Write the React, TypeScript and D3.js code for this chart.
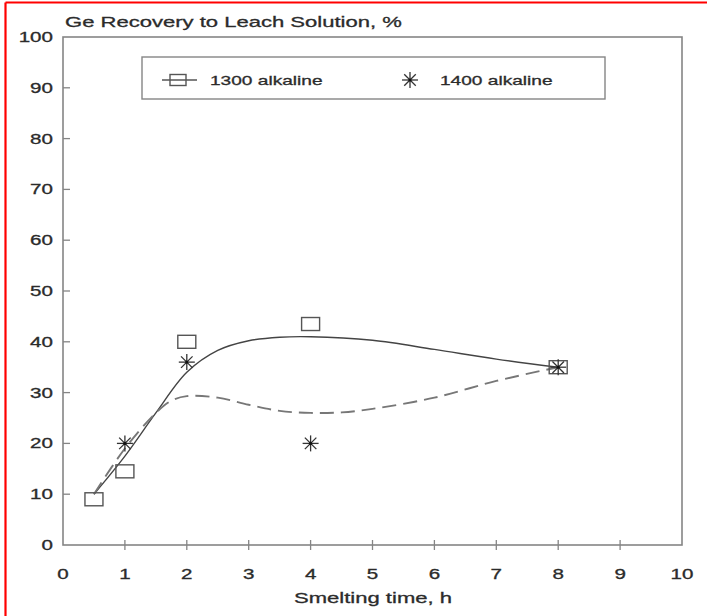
import React from "react";
import * as d3 from "d3";

// Measured recoveries (%)
const timeSquares = [0.5, 1, 2, 4, 8];
const recovery1300 = [9, 14.5, 40, 43.5, 35];
const timeStars = [1, 2, 4, 8];
const recovery1400 = [20, 36, 20, 35];

// Fitted trend curves
const fit1300X = [0.5, 1, 1.5, 2, 2.5, 3, 3.5, 4, 5, 6, 7, 8];
const fit1300Y = [10, 17.5, 26, 34, 38.3, 40.2, 40.9, 41, 40.3, 38.5, 36.6, 35];
const fit1400X = [0.5, 1, 1.5, 1.75, 2, 2.5, 3, 3.5, 4, 4.5, 5, 6, 7, 8];
const fit1400Y = [10, 19, 26, 28.4, 29.3, 29, 27.6, 26.4, 26, 26.1, 26.8, 29, 32.3, 35];

const xTicks = [0, 1, 2, 3, 4, 5, 6, 7, 8, 9, 10];
const yTicks = [0, 10, 20, 30, 40, 50, 60, 70, 80, 90, 100];

const legendLabels = ["1300 alkaline", "1400 alkaline"];
const titleText = "Ge Recovery to Leach Solution, %";
const xTitle = "Smelting time, h";

const W = 707;
const H = 616;
const plot = { left: 63, right: 682, top: 37, bottom: 545 };
const SX = 1.47; // horizontal stretch of the lettering
const FONT = "'Liberation Sans', Arial, sans-serif";
const INK = "#2b2b2b";
const FRAME = "#858585";

function SText({ x, y, size, anchor = "start", children, baseline = "auto" }: any) {
  return (
    <text
      transform={`translate(${x},${y}) scale(${SX},1)`}
      fontFamily={FONT}
      fontSize={size}
      textAnchor={anchor}
      dominantBaseline={baseline}
      fill={INK}
      stroke={INK}
      strokeWidth={0.3}
    >
      {children}
    </text>
  );
}

function Square({ cx, cy, w = 18, h = 13 }: any) {
  return (
    <rect x={cx - w / 2} y={cy - h / 2} width={w} height={h} fill="none" stroke="#555" strokeWidth={1.4} />
  );
}

function Star({ cx, cy, r = 8 }: any) {
  const d = r * 0.72;
  return (
    <g stroke="#333" strokeWidth={1.3}>
      <line x1={cx - r} y1={cy} x2={cx + r} y2={cy} />
      <line x1={cx} y1={cy - r} x2={cx} y2={cy + r} />
      <line x1={cx - d} y1={cy - d} x2={cx + d} y2={cy + d} />
      <line x1={cx - d} y1={cy + d} x2={cx + d} y2={cy - d} />
      <circle cx={cx} cy={cy} r={1.6} fill="#111" stroke="none" />
    </g>
  );
}

export default function App() {
  const x = d3.scaleLinear().domain([0, 10]).range([plot.left, plot.right]);
  const y = d3.scaleLinear().domain([0, 100]).range([plot.bottom, plot.top]);

  const line = d3
    .line<[number, number]>()
    .x((d) => x(d[0]))
    .y((d) => y(d[1]))
    .curve(d3.curveCatmullRom.alpha(0.5));

  const solidPath = line(fit1300X.map((v, i) => [v, fit1300Y[i]]) as [number, number][]) || "";
  const dashedPath = line(fit1400X.map((v, i) => [v, fit1400Y[i]]) as [number, number][]) || "";

  return (
    <div style={{ position: "absolute", left: 0, top: 0 }}>
      <svg width={W} height={H} style={{ display: "block", background: "#fff" }}>
        {/* outer red frame */}
        <line x1={5.5} y1={2.5} x2={W} y2={2.5} stroke="#ff0000" strokeWidth={2.2} />
        <line x1={5.5} y1={2.5} x2={5.5} y2={H} stroke="#ff0000" strokeWidth={2.2} />

        {/* title */}
        <SText x={65} y={27} size={15}>
          {titleText}
        </SText>

        {/* plot frame */}
        <rect
          x={plot.left}
          y={plot.top}
          width={plot.right - plot.left}
          height={plot.bottom - plot.top}
          fill="none"
          stroke={FRAME}
          strokeWidth={1.6}
        />

        {/* y ticks and labels */}
        {yTicks.map((t) => (
          <g key={`y${t}`}>
            {t > 0 && t < 100 && (
              <line x1={x(0)} x2={x(0) + 7} y1={y(t)} y2={y(t)} stroke={FRAME} strokeWidth={1.3} />
            )}
            <SText x={53} y={y(t) + 5} size={14} anchor="end">
              {t}
            </SText>
          </g>
        ))}

        {/* x ticks and labels */}
        {xTicks.map((t) => (
          <g key={`x${t}`}>
            {t > 0 && t < 10 && (
              <line x1={x(t)} x2={x(t)} y1={y(0) - 5} y2={y(0) + 5} stroke={FRAME} strokeWidth={1.3} />
            )}
            <SText x={x(t)} y={579} size={14} anchor="middle">
              {t}
            </SText>
          </g>
        ))}

        <SText x={373} y={603} size={15} anchor="middle">
          {xTitle}
        </SText>

        {/* legend */}
        <rect x={142} y={57} width={463} height={42} fill="none" stroke={FRAME} strokeWidth={1.4} />
        <line x1={162} x2={197} y1={80} y2={80} stroke="#555" strokeWidth={1.3} />
        <Square cx={178} cy={80} w={16} h={11} />
        <SText x={210} y={85} size={13}>
          {legendLabels[0]}
        </SText>
        <Star cx={410} cy={80} r={8} />
        <SText x={440} y={85} size={13}>
          {legendLabels[1]}
        </SText>

        {/* fitted curves */}
        <path d={solidPath} fill="none" stroke="#444" strokeWidth={1.4} />
        <path d={dashedPath} fill="none" stroke="#777" strokeWidth={1.9} strokeDasharray="14 7" />

        {/* measured points */}
        {timeSquares.map((t, i) => (
          <Square key={`s${i}`} cx={x(t)} cy={y(recovery1300[i])} />
        ))}
        {timeStars.map((t, i) => (
          <Star key={`a${i}`} cx={x(t)} cy={y(recovery1400[i])} />
        ))}
      </svg>
    </div>
  );
}
